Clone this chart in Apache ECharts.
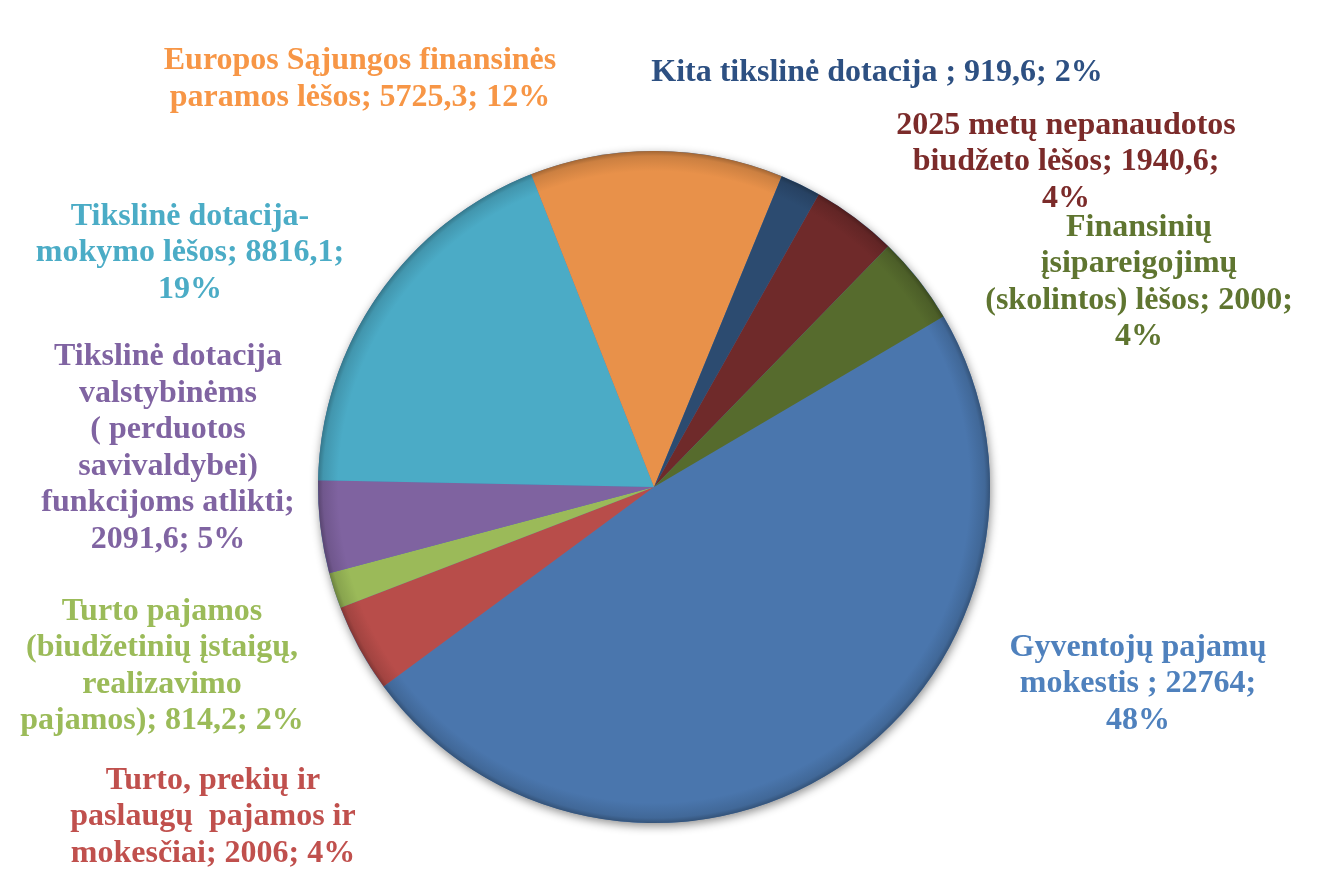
<!DOCTYPE html>
<html>
<head>
<meta charset="utf-8">
<script src="https://cdn.jsdelivr.net/npm/echarts@6/dist/echarts.min.js"></script>
<style>
html, body { margin: 0; padding: 0; background: #fff; }
#chart { width: 1324px; height: 881px; }
</style>
</head>
<body>
<div id="chart"></div>
<script>
// Duomenys (tūkst. Eur)
const categories = [
    'Gyventojų pajamų\nmokestis ',
    'Turto, prekių ir\npaslaugų  pajamos ir\nmokesčiai',
    'Turto pajamos\n(biudžetinių įstaigų,\nrealizavimo\npajamos)',
    'Tikslinė dotacija\nvalstybinėms\n( perduotos\nsavivaldybei)\nfunkcijoms atlikti',
    'Tikslinė dotacija-\nmokymo lėšos',
    'Europos Sąjungos finansinės\nparamos lėšos',
    'Kita tikslinė dotacija ',
    '2025 metų nepanaudotos\nbiudžeto lėšos',
    'Finansinių\nįsipareigojimų\n(skolintos) lėšos'
];
const values = [22764, 2006, 814.2, 2091.6, 8816.1, 5725.3, 919.6, 1940.6, 2000];
// skirtukai etiketėse: po pavadinimo ir po reikšmės
const breakAfterName = [' ', ' ', ' ', '\n', ' ', ' ', ' ', ' ', ' '];
const breakAfterValue = ['\n', ' ', ' ', ' ', '\n', ' ', ' ', '\n', '\n'];

const sliceColors = ['#4A76AD', '#B84D4A', '#9BBA59', '#7F63A0', '#4BABC6',
                     '#E8914A', '#2C4B70', '#6F2A2A', '#566B2D'];
const labelColors = ['#4F81BD', '#C0504D', '#9BBB59', '#8064A2', '#4BACC6',
                     '#F79646', '#2D5082', '#7B2B2A', '#5F7530'];
const labelPos = [[1138, 684], [213, 817], [162, 666], [168, 448], [190, 253],
                  [360, 79], [877, 73], [1066, 162], [1139, 282]];

const CX = 654, CY = 487, R = 336;

function shade(hex, f) {
    const n = parseInt(hex.slice(1), 16);
    const ch = [(n >> 16) & 255, (n >> 8) & 255, n & 255].map(c => Math.round(f < 0 ? c * (1 + f) : c + (255 - c) * f));
    return 'rgb(' + ch.join(',') + ')';
}

const chart = echarts.init(document.getElementById('chart'));

chart.setOption({
    animation: false,
    series: [
        {
            // šešėlis po skrituliu
            type: 'pie',
            silent: true,
            center: [CX, CY],
            radius: R,
            z: 1,
            label: { show: false },
            labelLine: { show: false },
            itemStyle: {
                color: '#4A76AD',
                shadowBlur: 10,
                shadowOffsetY: 3,
                shadowOffsetX: 1,
                shadowColor: 'rgba(0,0,0,0.45)'
            },
            data: [1]
        },
        {
            type: 'pie',
            center: [CX, CY],
            radius: R,
            startAngle: 30.5,
            clockwise: true,
            z: 2,
            percentPrecision: 0,
            avoidLabelOverlap: false,
            labelLine: { show: false },
            label: {
                show: true,
                fontFamily: '"Liberation Serif", "Times New Roman", serif',
                fontWeight: 'bold',
                fontSize: 32,
                lineHeight: 36.5,
                align: 'center',
                formatter: p => {
                    const i = p.dataIndex;
                    const v = String(values[i]).replace('.', ',');
                    return categories[i] + ';' + breakAfterName[i] + v + ';' + breakAfterValue[i] + p.percent + '%';
                }
            },
            labelLayout: params => {
                const pos = labelPos[params.dataIndex];
                return { x: pos[0], y: pos[1], align: 'center', verticalAlign: 'middle' };
            },
            data: values.map((v, i) => ({
                name: categories[i],
                value: v,
                label: { color: labelColors[i] },
                itemStyle: {
                    color: {
                        type: 'radial', x: CX, y: CY, r: R, global: true,
                        colorStops: [
                            { offset: 0, color: sliceColors[i] },
                            { offset: 0.94, color: sliceColors[i] },
                            { offset: 0.985, color: shade(sliceColors[i], -0.12) },
                            { offset: 1, color: shade(sliceColors[i], -0.3) }
                        ]
                    }
                }
            }))
        }
    ]
});

window.addEventListener('resize', () => chart.resize());
</script>
</body>
</html>
